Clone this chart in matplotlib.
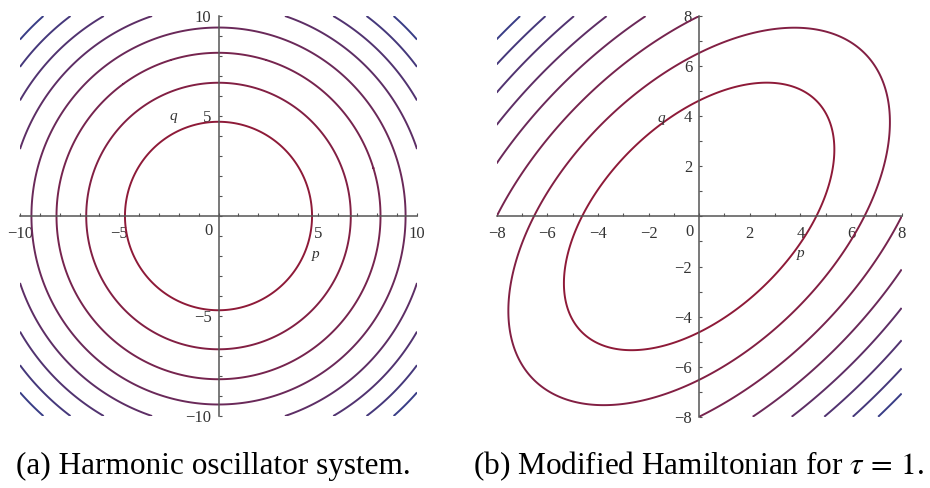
import numpy as np
import matplotlib
matplotlib.use("Agg")
import matplotlib.pyplot as plt
from matplotlib.colors import to_rgb
from matplotlib.ticker import MultipleLocator, FixedLocator

plt.rcParams["font.family"] = ["Liberation Serif", "DejaVu Serif"]
plt.rcParams["mathtext.fontset"] = "stix"

# Contour levels of the two Hamiltonians (8 equally spaced levels each)
levels_a = [11.1, 22.2, 33.3, 44.4, 55.6, 66.7, 77.8, 88.9]
levels_b = [10.7, 21.3, 32.0, 42.7, 53.3, 64.0, 74.7, 85.3]

# Axis ranges and labelled ticks
range_a = [-10, 10]
range_b = [-8, 8]
ticks_a = [-10, -5, 5, 10]
ticks_b = [-8, -6, -4, -2, 2, 4, 6, 8]
tau = 1.0

captions = ["(a) Harmonic oscillator system.",
            r"(b) Modified Hamiltonian for $\tau\,=\,1$."]

AXIS_COLOR = "#555555"
LOW_COLOR = np.array(to_rgb("#8e1a38"))
HIGH_COLOR = np.array(to_rgb("#393d86"))


def level_colors(n):
    t = np.linspace(0, 1, n)
    return [tuple(LOW_COLOR * (1 - s) + HIGH_COLOR * s) for s in t]


def h_harmonic(p, q):
    return 0.5 * (p ** 2 + q ** 2)


def h_modified(p, q):
    return 0.5 * (p ** 2 + q ** 2) - 0.5 * tau * p * q


def phase_panel(ax, lim, ham, levels, ticks, q_lab, p_lab):
    g = np.linspace(lim[0], lim[1], 801)
    P, Q = np.meshgrid(g, g)
    H = ham(P, Q)
    ax.contour(P, Q, H, levels=levels, colors=level_colors(len(levels)),
               linewidths=1.4)
    ax.set_xlim(lim)
    ax.set_ylim(lim)
    for side in ("top", "right"):
        ax.spines[side].set_visible(False)
    for side in ("left", "bottom"):
        ax.spines[side].set_position(("data", 0))
        ax.spines[side].set_color(AXIS_COLOR)
        ax.spines[side].set_linewidth(1.1)
    ax.xaxis.set_major_locator(FixedLocator(ticks))
    ax.yaxis.set_major_locator(FixedLocator(ticks))
    ax.xaxis.set_minor_locator(MultipleLocator(1))
    ax.yaxis.set_minor_locator(MultipleLocator(1))
    fmt = lambda v: ("\u2212" + str(abs(v))) if v < 0 else str(v)
    ax.set_xticklabels([fmt(t) for t in ticks])
    ax.set_yticklabels([fmt(t) for t in ticks])
    ax.tick_params(which="both", direction="in", length=2.5, width=0.8,
                   color=AXIS_COLOR, labelsize=12, labelcolor="#333333")
    ax.tick_params(axis="x", which="both", pad=7)
    ax.tick_params(axis="y", which="both", pad=5)
    ax.annotate("0", (0, 0), xytext=(-7, -11), textcoords="offset points",
                ha="center", va="center", fontsize=12, color="#333333",
                annotation_clip=False)
    ax.text(q_lab[0], q_lab[1], "q", style="italic", fontsize=11,
            color="#333333", ha="center", va="center")
    ax.text(p_lab[0], p_lab[1], "p", style="italic", fontsize=11,
            color="#333333", ha="center", va="center")
    for t in ax.get_xticklabels() + ax.get_yticklabels():
        t.set_clip_on(False)
    ax.patch.set_visible(False)


fig = plt.figure(figsize=(9.3, 4.88), dpi=100)
ax_a = fig.add_axes([0.0215, 0.1475, 0.4269, 0.8197])
ax_b = fig.add_axes([0.534, 0.146, 0.4355, 0.821])

phase_panel(ax_a, range_a, h_harmonic, levels_a, ticks_a,
            (-2.3, 5.0), (4.9, -1.9))
phase_panel(ax_b, range_b, h_modified, levels_b, ticks_b,
            (-1.5, 3.9), (4.0, -1.5))

fig.text(0.229, 0.045, captions[0], ha="center", va="center", fontsize=22.5)
fig.text(0.751, 0.045, captions[1], ha="center", va="center", fontsize=22.5)

fig.savefig("out.png", dpi=100, facecolor="white")
